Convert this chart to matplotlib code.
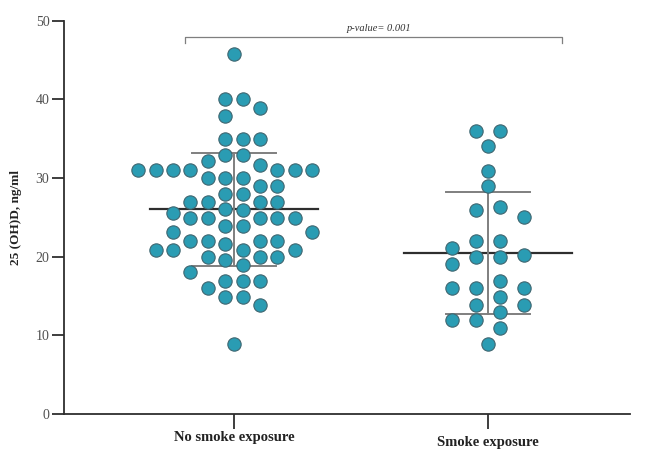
import numpy as np
import matplotlib
matplotlib.use('Agg')
import matplotlib.pyplot as plt
from matplotlib.transforms import ScaledTranslation

# values (ng/ml)
groups = ['No smoke exposure', 'Smoke exposure']
no_smoke = [45.8, 40.0, 40.0, 38.9, 37.9, 34.9, 34.9, 34.9, 32.9, 32.9, 32.1, 31.6,
            31.0, 31.0, 31.0, 31.0, 31.0, 31.0, 31.0, 30.0, 30.0, 30.0, 29.0, 29.0,
            28.0, 28.0, 26.9, 26.9, 26.9, 26.9, 26.0, 25.9, 25.5,
            24.9, 24.9, 24.9, 24.9, 24.9, 23.9, 23.9, 23.1, 23.1,
            22.0, 22.0, 22.0, 22.0, 21.6, 20.9, 20.9, 20.9, 20.9,
            19.9, 19.9, 19.9, 19.6, 18.9, 18.0, 16.9, 16.9, 16.9, 16.0,
            14.9, 14.9, 13.9, 8.9]
smoke = [36.0, 36.0, 34.1, 30.9, 29.0, 26.3, 25.9, 25.0, 22.0, 22.0, 21.1, 20.2,
         19.9, 19.9, 19.0, 16.9, 16.0, 16.0, 16.0, 14.9, 13.9, 13.9, 13.0, 12.0,
         11.9, 10.9, 8.9]
p_label = 'p-value= 0.001'

DOT = '#2a9cb3'
EDGE = '#3f6670'
GREY = '#7f7f7f'
DARK = '#2e2e2e'
SERIF = ['Liberation Serif', 'DejaVu Serif']

fig = plt.figure(figsize=(6.51, 4.49), dpi=100)
ax = fig.add_axes([64/651, 35/449, 566/651, 393.5/449])
ax.set_xlim(0.331, 2.559)
ax.set_ylim(0, 50)


def swarm(vals, spacing, sy, ax):
    """Prism-like column scatter: isolated points sit on the centre line,
    crowded ones go to the odd half-step columns either side of it"""
    t = ax.transData
    xu = t.transform((1, 0))[0] - t.transform((0, 0))[0]
    yu = t.transform((0, 1))[1] - t.transform((0, 0))[1]
    h = spacing / 2
    ys = np.asarray(vals) * yu
    placed = []
    for i, y in enumerate(ys):
        alone = np.sum(np.abs(ys - y) < sy) == 1
        nl = sum(1 for p in placed if p[0] < 0)
        nr = sum(1 for p in placed if p[0] > 0)
        sgn = 1 if nr <= nl else -1
        ks = range(0, 40, 2) if alone else range(1, 40, 2)
        cands = []
        for k in ks:
            cands += [sgn * k * h, -sgn * k * h] if k else [0.0]
        for c in cands:
            if all(abs(c - px) >= spacing - 0.01 or abs(y - py) >= sy
                   for px, py in placed):
                break
        placed.append((c, y))
    return np.array([p[0] for p in placed]) / xu


data = [np.array(no_smoke), np.array(smoke)]
spacings = [17.4, 24.0]
stack = [15.0, 14.5]
for i, (vals, sp, sy) in enumerate(zip(data, spacings, stack)):
    pos = i + 1
    m = vals.mean()
    sd = vals.std(ddof=1)
    ax.plot([pos - 0.33, pos + 0.33], [m, m], color=DARK, lw=1.6, zorder=2)
    ax.plot([pos, pos], [m - sd, m + sd], color=GREY, lw=1.4, zorder=2)
    for yy in (m - sd, m + sd):
        ax.plot([pos - 0.165, pos + 0.165], [yy, yy], color=GREY, lw=1.4, zorder=2)
    xo = swarm(vals, sp, sy, ax)
    ax.scatter(pos + xo, vals, s=92, color=DOT, edgecolor=EDGE, linewidth=0.8, zorder=3)

# significance bracket
bx0, bx1, by = 0.807, 2.291, 47.9
ax.plot([bx0, bx0, bx1, bx1], [by - 0.7, by, by, by - 0.7], color=GREY, lw=0.9,
        clip_on=False)
ax.text((bx0 + bx1) / 2 + 0.02, by + 0.5, p_label, ha='center', va='bottom',
        fontsize=7.5, style='italic', family=SERIF, color='#333333')

for s in ['top', 'right']:
    ax.spines[s].set_visible(False)
for s in ['left', 'bottom']:
    ax.spines[s].set_color(DARK)
    ax.spines[s].set_linewidth(1.3)

ax.set_yticks(range(0, 51, 10))
ax.tick_params(axis='y', length=8.5, width=1.3, color=DARK, pad=2,
               labelsize=10, labelcolor='#505050')
ax.set_xticks([1, 2])
ax.set_xticklabels(groups, fontweight='bold', fontsize=10.5, family=SERIF, color='#222222')
ax.tick_params(axis='x', length=11, width=1.3, color=DARK, pad=1)
for lab in ax.get_yticklabels():
    lab.set_family(SERIF)
lab2 = ax.get_xticklabels()[1]
lab2.set_transform(lab2.get_transform() + ScaledTranslation(0, -4/72, fig.dpi_scale_trans))

ax.set_ylabel('25 (OH)D, ng/ml', fontweight='bold', fontsize=9.5, family=SERIF, color='#222222')
ax.yaxis.set_label_coords(-0.074, 0.5)

plt.savefig('out.png', dpi=100)
